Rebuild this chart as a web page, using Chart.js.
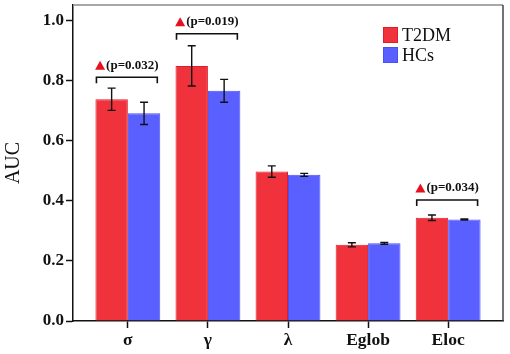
<!DOCTYPE html>
<html>
<head>
<meta charset="utf-8">
<script src="https://cdn.jsdelivr.net/npm/chart.js@4/dist/chart.umd.min.js"></script>
<style>
  html, body { margin: 0; padding: 0; background: #fff; }
  #wrap { width: 510px; height: 354px; }
</style>
</head>
<body>
<div id="wrap"><canvas id="aucChart"></canvas></div>
<script>
// Data
var categories = ['σ', 'γ', 'λ', 'Eglob', 'Eloc'];
var t2dm = [0.739, 0.850, 0.498, 0.254, 0.344];
var t2dmErr = [0.037, 0.067, 0.019, 0.007, 0.009];
var hcs = [0.692, 0.767, 0.487, 0.259, 0.338];
var hcsErr = [0.037, 0.038, 0.005, 0.003, 0.002];
var yTicks = [0, 0.2, 0.4, 0.6, 0.8, 1.0];
// significance markers: category index, bracket level, label
var sigIndex = [0, 1, 4];
var sigLevel = [0.812, 0.957, 0.403];
var sigText = ['(p=0.032)', '(p=0.019)', '(p=0.034)'];

document.addEventListener('DOMContentLoaded', function(){
  var serif = "'Liberation Serif', 'Times New Roman', serif";
  var RED = '#F0323C', RED_EDGE = '#E01E2A';
  var BLUE = '#5A5FFF', BLUE_EDGE = '#4A50F2';

  function points(arr){ return arr.map(function(v, i){ return { x: i + 1, y: v }; }); }

  var extras = {
    id: 'extras',
    afterDatasetsDraw: function(chart){
      var ctx = chart.ctx, ys = chart.scales.y, area = chart.chartArea;
      ctx.save();
      // frame top/right
      ctx.lineWidth = 1.5;
      ctx.strokeStyle = '#8a8a8a';
      ctx.beginPath(); ctx.moveTo(area.left, area.top); ctx.lineTo(area.right, area.top); ctx.stroke();
      ctx.strokeStyle = '#444';
      ctx.beginPath(); ctx.moveTo(area.right, area.top); ctx.lineTo(area.right, area.bottom); ctx.stroke();

      // error bars
      var errs = [t2dmErr, hcsErr];
      ctx.strokeStyle = '#111';
      ctx.lineWidth = 1.4;
      [0, 1].forEach(function(d){
        var meta = chart.getDatasetMeta(d);
        meta.data.forEach(function(bar, j){
          var v = chart.data.datasets[d].data[j].y, e = errs[d][j];
          var yt = ys.getPixelForValue(v + e), yb = ys.getPixelForValue(v - e);
          var x = bar.x;
          ctx.beginPath();
          ctx.moveTo(x, yt); ctx.lineTo(x, yb);
          ctx.moveTo(x - 4, yt); ctx.lineTo(x + 4, yt);
          ctx.moveTo(x - 4, yb); ctx.lineTo(x + 4, yb);
          ctx.stroke();
        });
      });

      // significance brackets
      var m0 = chart.getDatasetMeta(0), m1 = chart.getDatasetMeta(1);
      sigIndex.forEach(function(idx, k){
        var b0 = m0.data[idx], b1 = m1.data[idx];
        var left = b0.x - b0.width / 2 + 1, right = b1.x + b1.width / 2 - 3;
        var yb = ys.getPixelForValue(sigLevel[k]);
        ctx.strokeStyle = '#111';
        ctx.lineWidth = 1.6;
        ctx.beginPath();
        ctx.moveTo(left, yb + 6); ctx.lineTo(left, yb); ctx.lineTo(right, yb); ctx.lineTo(right, yb + 6);
        ctx.stroke();
        ctx.font = 'bold 13px ' + serif;
        var tw = ctx.measureText(sigText[k]).width;
        var total = 11 + tw;
        var cx = (left + right) / 2;
        var sx = cx - total / 2;
        var ty = yb - 12;
        ctx.fillStyle = '#E8101C';
        ctx.beginPath();
        ctx.moveTo(sx, ty + 4.5); ctx.lineTo(sx + 10, ty + 4.5); ctx.lineTo(sx + 5, ty - 4.5);
        ctx.closePath(); ctx.fill();
        ctx.fillStyle = '#111';
        ctx.textBaseline = 'middle';
        ctx.textAlign = 'left';
        ctx.fillText(sigText[k], sx + 11, ty);
      });

      // legend
      var labels = ['T2DM', 'HCs'], fills = [RED, BLUE], edges = [RED_EDGE, BLUE_EDGE];
      ctx.font = '18px ' + serif;
      ctx.textBaseline = 'middle';
      labels.forEach(function(l, i){
        var ly = 27 + i * 20;
        ctx.fillStyle = fills[i];
        ctx.fillRect(383, ly, 15, 16);
        ctx.strokeStyle = edges[i];
        ctx.lineWidth = 1;
        ctx.strokeRect(383.5, ly + 0.5, 14, 15);
        ctx.fillStyle = '#111';
        ctx.fillText(l, 402, ly + 9);
      });
      ctx.restore();
    }
  };

  new Chart(document.getElementById('aucChart'), {
    type: 'bar',
    data: {
      datasets: [
        { label: 'T2DM', data: points(t2dm), backgroundColor: RED, borderColor: RED_EDGE, borderWidth: 1 },
        { label: 'HCs', data: points(hcs), backgroundColor: BLUE, borderColor: BLUE_EDGE, borderWidth: 1 }
      ]
    },
    options: {
      responsive: true,
      maintainAspectRatio: false,
      animation: false,
      layout: { padding: { left: 0, top: 5, right: 7, bottom: 0 } },
      datasets: { bar: { categoryPercentage: 0.81, barPercentage: 1.0 } },
      plugins: { legend: { display: false }, tooltip: { enabled: false } },
      scales: {
        x: {
          type: 'linear',
          offset: false,
          min: 0.315, max: 5.685,
          grid: { offset: false, drawOnChartArea: false, tickLength: 7, color: '#111', tickWidth: 1.5 },
          border: { color: '#111', width: 1.5 },
          afterBuildTicks: function(scale){
            scale.ticks = categories.map(function(c, i){ return { value: i + 1 }; });
          },
          ticks: {
            color: '#111',
            padding: 2,
            font: { family: serif, size: 17.5, weight: 'bold' },
            callback: function(v){ return categories[v - 1]; }
          },
          afterFit: function(scale){ scale.height = 33; scale.paddingLeft = 0; scale.paddingRight = 0; }
        },
        y: {
          min: 0, max: 1.053,
          grid: { drawOnChartArea: false, tickLength: 7, color: '#111', tickWidth: 1.5 },
          border: { color: '#111', width: 1.5 },
          afterBuildTicks: function(scale){
            scale.ticks = yTicks.map(function(v){ return { value: v }; });
          },
          ticks: {
            color: '#111',
            padding: 2,
            font: { family: serif, size: 17, weight: 'bold' },
            callback: function(v){ return v.toFixed(1); }
          },
          title: {
            display: true, text: 'AUC', color: '#111',
            font: { family: serif, size: 20 }, padding: { top: 2, bottom: 4 }
          },
          afterFit: function(scale){ scale.width = 73; scale.paddingTop = 0; scale.paddingBottom = 0; }
        }
      }
    },
    plugins: [extras]
  });
});
</script>
</body>
</html>
